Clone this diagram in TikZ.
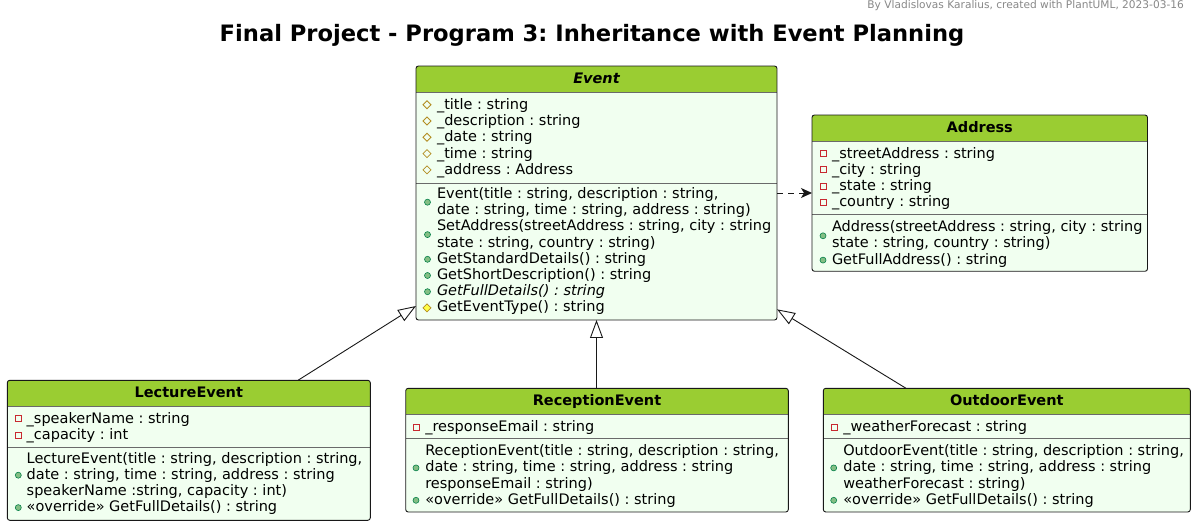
\documentclass[tikz,border=0pt]{standalone}
\usepackage{fontspec}
\setmainfont{DejaVu Sans}
\usetikzlibrary{arrows.meta}
\frenchspacing
\definecolor{hdr}{HTML}{9ACD32}
\definecolor{bodyc}{HTML}{F1FFF0}
\definecolor{brd}{HTML}{181818}
\definecolor{sepc}{HTML}{6A6A6A}
\definecolor{pubfill}{HTML}{84BE84}
\definecolor{pubdraw}{HTML}{038048}
\definecolor{protc}{HTML}{B38D22}
\definecolor{protfill}{HTML}{FFFF44}
\definecolor{privc}{HTML}{C82930}
\definecolor{footc}{HTML}{888888}
\tikzset{
  boxn/.style={inner sep=0pt, outer sep=0pt},
  mem/.style={anchor=base west, inner sep=0pt, outer sep=0pt, font=\frenchspacing\fontsize{14.5}{16}\selectfont},
  clsname/.style={anchor=base, inner sep=0pt, font=\bfseries\fontsize{14.5}{16}\selectfont},
  conn/.style={draw=brd, line width=0.9pt},
  inherit/.style={conn, -{Triangle[open, length=18pt, width=13pt]}},
  depend/.style={conn, dash pattern=on 6pt off 5pt, -{Stealth[length=11pt, width=10pt, inset=3pt]}},
}
% name, x, y, w, h, sepY
\newcommand\umlbox[6]{%
  \node[boxn, minimum width=#4pt, minimum height=#5pt, anchor=north west] (#1) at (#2,#3) {};
  \begin{scope}
    \clip[rounded corners=2.5pt] (#1.north west) rectangle (#1.south east);
    \fill[bodyc] (#1.north west) rectangle (#1.south east);
    \fill[hdr] (#1.north west) rectangle ([yshift=-26pt]#1.north east);
  \end{scope}
  \draw[sepc, line width=0.6pt] ([yshift=-26pt]#1.north west) -- ([yshift=-26pt]#1.north east);
  \draw[sepc, line width=0.6pt] (#2,#6) -- ++(#4,0);
  \draw[brd, line width=0.9pt, rounded corners=2.5pt] (#1.north west) rectangle (#1.south east);
}
\newcommand\icpub[2]{\filldraw[fill=pubfill, draw=pubdraw, line width=0.6pt] (#1,#2) circle (3pt);}
\newcommand\icprotf[2]{\draw[protc, line width=0.8pt] (#1,#2) ++(0,-4) -- ++(4,4) -- ++(-4,4) -- ++(-4,-4) -- cycle;}
\newcommand\icprotm[2]{\filldraw[fill=protfill, draw=protc, line width=0.8pt] (#1,#2) ++(0,-4) -- ++(4,4) -- ++(-4,4) -- ++(-4,-4) -- cycle;}
\newcommand\icpriv[2]{\draw[privc, line width=0.8pt] (#1,#2) ++(-3,-3) rectangle ++(6,6);}
\begin{document}
\begin{tikzpicture}[x=1pt, y=-1pt]
\useasboundingbox[fill=white] (0,0) rectangle (1196,526);

\node[anchor=base east, inner sep=0pt, text=footc, font=\fontsize{10.6}{12}\selectfont] (footer) at (1184,9) {By Vladislovas Karalius, created with PlantUML, 2023-03-16};
\node[anchor=base, inner sep=0pt, font=\bfseries\fontsize{22.6}{26}\selectfont] (title) at (592,42) {Final Project - Program 3: Inheritance with Event Planning};

% ---------- Event ----------
\umlbox{event}{416}{66}{361}{254}{183}
\node[clsname, font=\bfseries\itshape\fontsize{14.5}{16}\selectfont] (event-t) at ([yshift=-17.8pt]event.north) {Event};
\icprotf{427}{104.7}\node[mem] (ev-a1) at (437,109.3) {\_title : string};
\icprotf{427}{121.0}\node[mem] (ev-a2) at (437,125.6) {\_description : string};
\icprotf{427}{137.3}\node[mem] (ev-a3) at (437,141.9) {\_date : string};
\icprotf{427}{153.6}\node[mem] (ev-a4) at (437,158.2) {\_time : string};
\icprotf{427}{169.9}\node[mem] (ev-a5) at (437,174.5) {\_address : Address};
\icpub{427.5}{202.2}
\node[mem] (ev-m1a) at (437,198.5) {Event(title : string, description : string,};
\node[mem] (ev-m1b) at (437,214.7) {date : string, time : string, address : string)};
\icpub{427.5}{234.6}
\node[mem] (ev-m2a) at (437,230.9) {SetAddress(streetAddress : string, city : string};
\node[mem] (ev-m2b) at (437,247.1) {state : string, country : string)};
\icpub{427.5}{259.3}\node[mem] (ev-m3) at (437,263.3) {GetStandardDetails() : string};
\icpub{427.5}{275.5}\node[mem] (ev-m4) at (437,279.5) {GetShortDescription() : string};
\icpub{427.5}{291.7}\node[mem] (ev-m5) at (437,295.7) {\itshape GetFullDetails() : string};
\icprotm{427}{307.9}\node[mem] (ev-m6) at (437,311.9) {GetEventType() : string};

% ---------- Address ----------
\umlbox{address}{812}{115}{335.5}{156.3}{214.3}
\node[clsname] (address-t) at ([yshift=-17.7pt]address.north) {Address};
\icpriv{823}{153.7}\node[mem] (ad-a1) at (832,158.3) {\_streetAddress : string};
\icpriv{823}{169.9}\node[mem] (ad-a2) at (832,174.5) {\_city : string};
\icpriv{823}{186.1}\node[mem] (ad-a3) at (832,190.7) {\_state : string};
\icpriv{823}{202.4}\node[mem] (ad-a4) at (832,207.0) {\_country : string};
\icpub{823}{235.8}
\node[mem] (ad-m1a) at (832,231.7) {Address(streetAddress : string, city : string};
\node[mem] (ad-m1b) at (832,247.9) {state : string, country : string)};
\icpub{823}{260.1}\node[mem] (ad-m2) at (832,264.1) {GetFullAddress() : string};

% ---------- LectureEvent ----------
\umlbox{lecture}{7.3}{380.3}{363}{140}{447}
\node[clsname] (lecture-t) at ([yshift=-17.4pt]lecture.north) {LectureEvent};
\icpriv{18.3}{418.7}\node[mem] (le-a1) at (26.7,423.3) {\_speakerName : string};
\icpriv{18.3}{434.9}\node[mem] (le-a2) at (26.7,439.5) {\_capacity : int};
\icpub{18.3}{475.2}
\node[mem] (le-m1a) at (26.7,463.0) {LectureEvent(title : string, description : string,};
\node[mem] (le-m1b) at (26.7,479.2) {date : string, time : string, address : string};
\node[mem] (le-m1c) at (26.7,495.4) {speakerName :string, capacity : int)};
\icpub{18.3}{507.6}\node[mem] (le-m2) at (26.7,511.6) {«override» GetFullDetails() : string};

% ---------- ReceptionEvent ----------
\umlbox{reception}{405.7}{388.3}{382.6}{123.7}{438.3}
\node[clsname] (reception-t) at ([yshift=-17.4pt]reception.north) {ReceptionEvent};
\icpriv{416}{427.1}\node[mem] (re-a1) at (425.3,431.7) {\_responseEmail : string};
\icpub{416}{467.9}
\node[mem] (re-m1a) at (425.3,455.7) {ReceptionEvent(title : string, description : string,};
\node[mem] (re-m1b) at (425.3,471.9) {date : string, time : string, address : string};
\node[mem] (re-m1c) at (425.3,488.1) {responseEmail : string)};
\icpub{416}{500.3}\node[mem] (re-m2) at (425.3,504.3) {«override» GetFullDetails() : string};

% ---------- OutdoorEvent ----------
\umlbox{outdoor}{823.3}{388.3}{367}{123.7}{438.3}
\node[clsname] (outdoor-t) at ([yshift=-17.4pt]outdoor.north) {OutdoorEvent};
\icpriv{834}{427.1}\node[mem] (oe-a1) at (843.3,431.7) {\_weatherForecast : string};
\icpub{833.7}{467.9}
\node[mem] (oe-m1a) at (843.3,455.7) {OutdoorEvent(title : string, description : string,};
\node[mem] (oe-m1b) at (843.3,471.9) {date : string, time : string, address : string};
\node[mem] (oe-m1c) at (843.3,488.1) {weatherForecast : string)};
\icpub{833.7}{500.3}\node[mem] (oe-m2) at (843.3,504.3) {«override» GetFullDetails() : string};

% ---------- connectors ----------
\draw[depend] (event.east) -- (event.east -| address.west);
\draw[inherit] ([xshift=290.7pt]lecture.north west) -- ([yshift=14pt]event.south west);
\draw[inherit] (reception.north -| event.south) -- (event.south);
\draw[inherit] ([xshift=82.7pt]outdoor.north west) -- ([yshift=10.7pt]event.south east);
\end{tikzpicture}
\end{document}
